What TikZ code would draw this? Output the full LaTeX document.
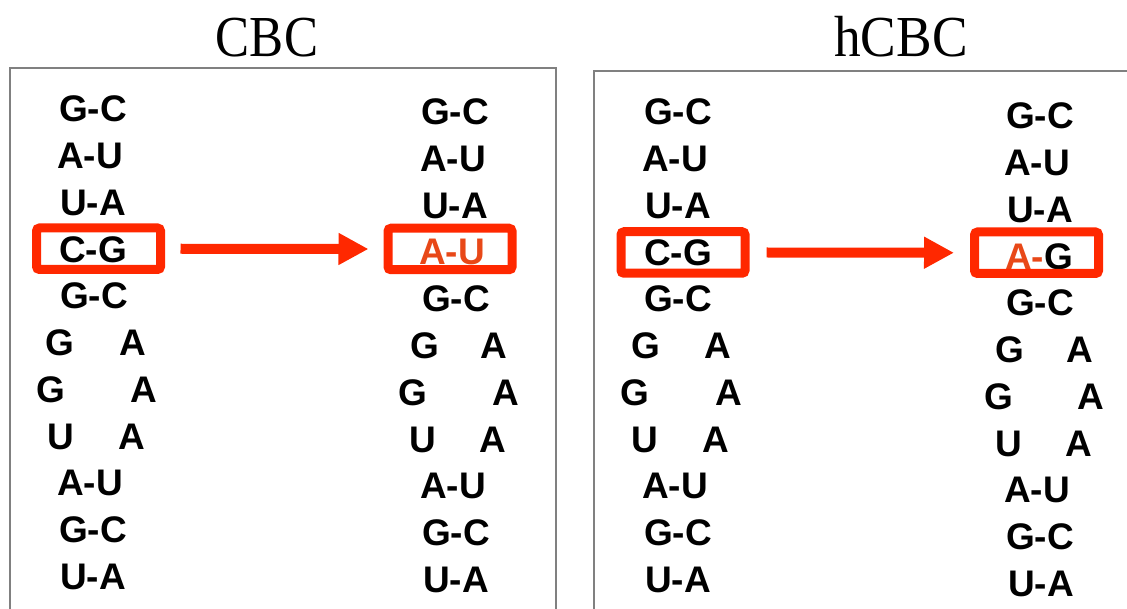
\documentclass[tikz,border=0pt]{standalone}
\usepackage{graphicx}
\usepackage{fontspec}
\setmainfont{Liberation Serif}
\newfontfamily\basefont{Liberation Sans}
\usetikzlibrary{arrows.meta}
\definecolor{hl}{RGB}{255,40,0}
\definecolor{mut}{RGB}{232,72,24}
\definecolor{framegray}{RGB}{128,128,128}
\def\rowstep{46.8}
\begin{document}
\begin{tikzpicture}[x=1pt,y=-1pt,
  base/.style={font=\basefont\bfseries\fontsize{37}{37}\selectfont, inner sep=0pt},
  heading/.style={font=\fontsize{58}{58}\selectfont, inner sep=0pt, anchor=base},
  panel/.style={draw=framegray, line width=2pt},
  hlbox/.style={draw=hl, line width=9pt, rounded corners=3pt,
    minimum width=124pt, minimum height=41.5pt, inner sep=0pt},
  change/.style={draw=hl, line width=10pt, -{Triangle[length=30pt,width=30pt]}}]
\useasboundingbox (0,0) rectangle (1127,609);
\clip (0,0) rectangle (1127,609);

% panel titles
\node[heading] (tcbc) at (267,57) {\scalebox{0.88}[1]{CBC}};
\node[heading] (thcbc) at (901,57) {\scalebox{0.92}[1]{hCBC}};

% panel frames (open at the page edges)
\draw[panel] (10,640) -- (10,68) -- (556,68) -- (556,640);
\draw[panel] (594,640) -- (594,71) -- (1160,71);

% ---------- CBC: original stem ----------
\foreach \r/\t/\x in {1/G-C/93,2/A-U/90,3/U-A/93,4/C-G/93,5/G-C/94,9/A-U/90,10/G-C/93,11/U-A/93}
  \node[base] (a\r) at (\x,{109+\rowstep*(\r-1)}) {\t};
\node[base] (a6l) at (60,{109+\rowstep*5}) {G};
\node[base] (a6r) at (133,{109+\rowstep*5}) {A};
\node[base] (a7l) at (51,{109+\rowstep*6}) {G};
\node[base] (a7r) at (144,{109+\rowstep*6}) {A};
\node[base] (a8l) at (61,{109+\rowstep*7}) {U};
\node[base] (a8r) at (132,{109+\rowstep*7}) {A};

% ---------- CBC: compensated stem ----------
\foreach \r/\t/\x in {1/G-C/455,2/A-U/453,3/U-A/455,5/G-C/456,9/A-U/453,10/G-C/456,11/U-A/456}
  \node[base] (b\r) at (\x,{112+\rowstep*(\r-1)}) {\t};
\node[base, text=mut] (b4) at (452,{112+\rowstep*3}) {A-U};
\node[base] (b6l) at (425,{112+\rowstep*5}) {G};
\node[base] (b6r) at (494,{112+\rowstep*5}) {A};
\node[base] (b7l) at (413,{112+\rowstep*6}) {G};
\node[base] (b7r) at (506,{112+\rowstep*6}) {A};
\node[base] (b8l) at (423,{112+\rowstep*7}) {U};
\node[base] (b8r) at (493,{112+\rowstep*7}) {A};

% ---------- hCBC: original stem ----------
\foreach \r/\t/\x in {1/G-C/678,2/A-U/675,3/U-A/678,4/C-G/678,5/G-C/678,9/A-U/675,10/G-C/678,11/U-A/678}
  \node[base] (c\r) at (\x,{112+\rowstep*(\r-1)}) {\t};
\node[base] (c6l) at (646,{112+\rowstep*5}) {G};
\node[base] (c6r) at (718,{112+\rowstep*5}) {A};
\node[base] (c7l) at (635,{112+\rowstep*6}) {G};
\node[base] (c7r) at (729,{112+\rowstep*6}) {A};
\node[base] (c8l) at (645,{112+\rowstep*7}) {U};
\node[base] (c8r) at (716,{112+\rowstep*7}) {A};

% ---------- hCBC: half-compensated stem ----------
\foreach \r/\t/\x in {1/G-C/1040,2/A-U/1037,3/U-A/1040,5/G-C/1040,9/A-U/1037,10/G-C/1040,11/U-A/1041}
  \node[base] (d\r) at (\x,{116+\rowstep*(\r-1)}) {\t};
\node[base] (d4) at (1039,{116+\rowstep*3}) {\textcolor{mut}{A-}G};
\node[base] (d6l) at (1010,{116+\rowstep*5}) {G};
\node[base] (d6r) at (1080,{116+\rowstep*5}) {A};
\node[base] (d7l) at (999,{116+\rowstep*6}) {G};
\node[base] (d7r) at (1091,{116+\rowstep*6}) {A};
\node[base] (d8l) at (1009,{116+\rowstep*7}) {U};
\node[base] (d8r) at (1079,{116+\rowstep*7}) {A};

% highlighted base pairs
\node[hlbox] (ba) at (98.5,248.75) {};
\node[hlbox] (bb) at (450,249) {};
\node[hlbox] (bc) at (683,252.5) {};
\node[hlbox] (bd) at (1036.5,252.75) {};

% substitutions
\draw[change] ([xshift=15.5pt]ba.east) -- ([xshift=-15pt]bb.west);
\draw[change] ([xshift=17pt]bc.east) -- ([xshift=-16pt]bd.west);
\end{tikzpicture}
\end{document}
